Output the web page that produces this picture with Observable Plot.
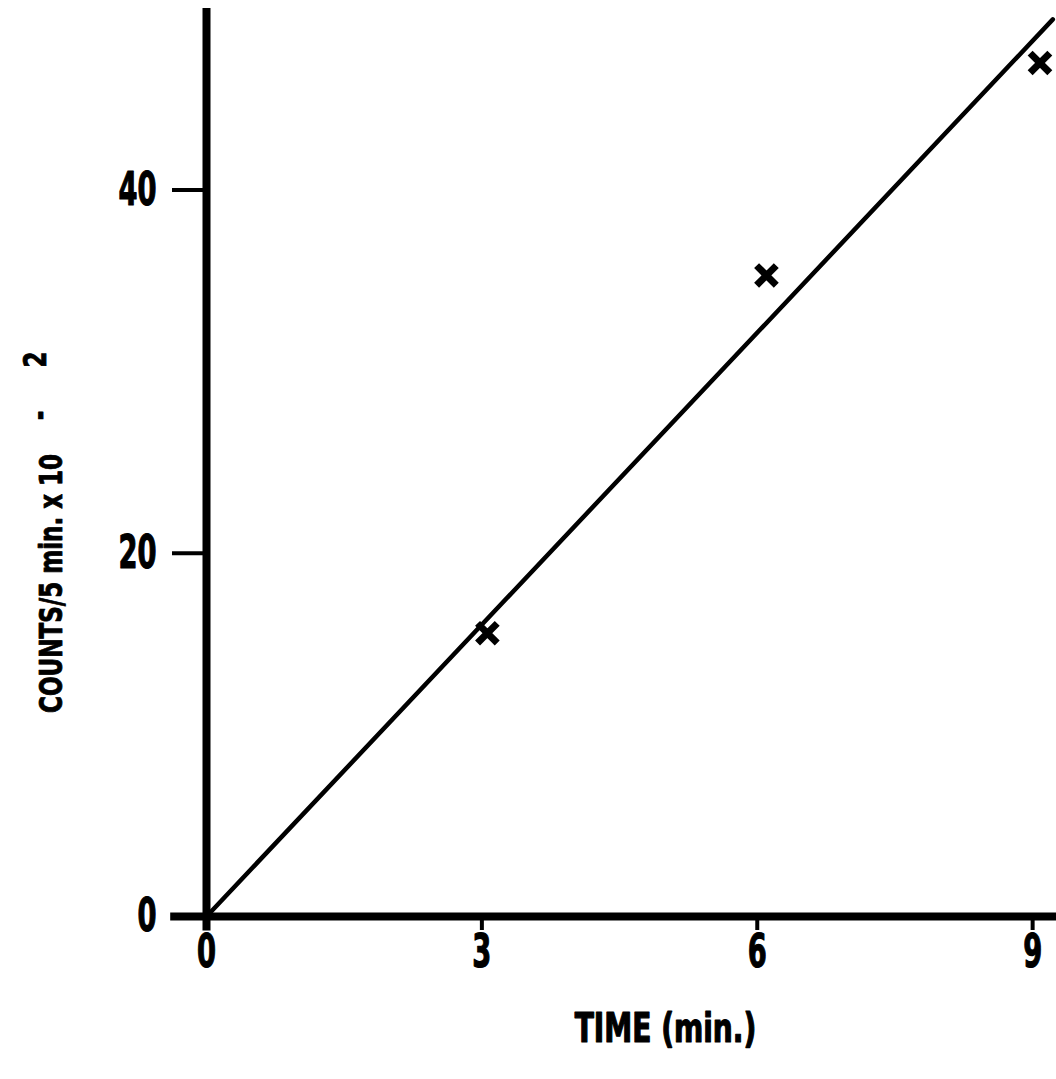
<!DOCTYPE html>
<html>
<head>
<meta charset="utf-8">
<script src="https://cdn.jsdelivr.net/npm/d3@7"></script>
<script src="https://cdn.jsdelivr.net/npm/@observablehq/plot@0.6"></script>
<style>
  html, body { margin: 0; padding: 0; background: #fff; }
</style>
</head>
<body>
<div id="chart"></div>
<script>
// Measured counts (hundreds of counts per 5 min) against time in minutes
const timeMin = [3.06, 6.1, 9.08];
const counts = [15.6, 35.3, 47.0];

// Straight-line fit through the origin
const fitTime = [0, 9.22];
const fitCounts = [0, 49.4];

// Axis ticks and extents
const xTicks = [0, 3, 6, 9];
const yTicks = [0, 20, 40];
const xDomain = [0, 9.26];
const yDomain = [0, 50];

const points = timeMin.map((t, i) => ({t, c: counts[i]}));
const fit = fitTime.map((t, i) => ({t, c: fitCounts[i]}));

const font = '"Liberation Sans Narrow", "DejaVu Sans Condensed", "Arial Narrow", sans-serif';

const chart = Plot.plot({
  width: 1056,
  height: 1079,
  marginLeft: 206,
  marginRight: 0,
  marginTop: 8,
  marginBottom: 163,
  style: {fontFamily: font, background: "#fff", color: "#000"},
  x: {domain: xDomain},
  y: {domain: yDomain},
  marks: [
    Plot.axisY(yTicks, {tickSize: 34, tickPadding: 16, strokeWidth: 4, fontSize: 46, fontWeight: "bold", label: null}),
    Plot.axisX(xTicks, {tickSize: 14, tickPadding: 4, strokeWidth: 4, fontSize: 46, fontWeight: "bold", label: null}),
    // heavy axis lines, each running a little past the origin
    Plot.ruleY([0], {x1: -0.39, x2: xDomain[1], strokeWidth: 8}),
    Plot.ruleX([0], {y1: -0.8, y2: yDomain[1], strokeWidth: 8}),
    Plot.line(fit, {x: "t", y: "c", strokeWidth: 4.5, stroke: "black"}),
    Plot.dot(points, {x: "t", y: "c", symbol: "times", r: 9, strokeWidth: 7, stroke: "black"}),
    Plot.text(["TIME (min.)"], {className: "x-title", frameAnchor: "bottom", dy: 125, dx: 34, fontSize: 40, fontWeight: "bold", fill: "black"})
  ]
});

document.getElementById("chart").appendChild(chart);

const svg = d3.select(chart);

// narrow, heavy lettering: squeeze each label horizontally about its anchor
function squeeze(selector, k) {
  svg.selectAll(selector).each(function() {
    const t = d3.select(this);
    t.attr("transform", (t.attr("transform") || "") + ` scale(${k},1)`)
      .attr("stroke", "black")
      .attr("stroke-width", 1.2)
      .attr("stroke-linejoin", "round");
  });
}
squeeze('g[aria-label="y-axis tick label"] text', 0.66);
squeeze('g[aria-label="x-axis tick label"] text', 0.66);
squeeze('g.x-title text', 0.78);

// Rotated y-axis title with a raised exponent
const ylab = svg.append("text")
  .attr("transform", "translate(62,713) rotate(-90) scale(0.8,1)")
  .attr("text-anchor", "start")
  .attr("font-size", 32)
  .attr("font-weight", "bold")
  .attr("font-family", font)
  .attr("fill", "black")
  .attr("stroke", "black")
  .attr("stroke-width", 0.8)
  .attr("stroke-linejoin", "round");
ylab.append("tspan").text("COUNTS/5 min. x 10");
ylab.append("tspan").attr("x", 366).attr("dy", -12).text("-");
ylab.append("tspan").attr("x", 432).attr("dy", -4).text("2");
</script>
</body>
</html>
